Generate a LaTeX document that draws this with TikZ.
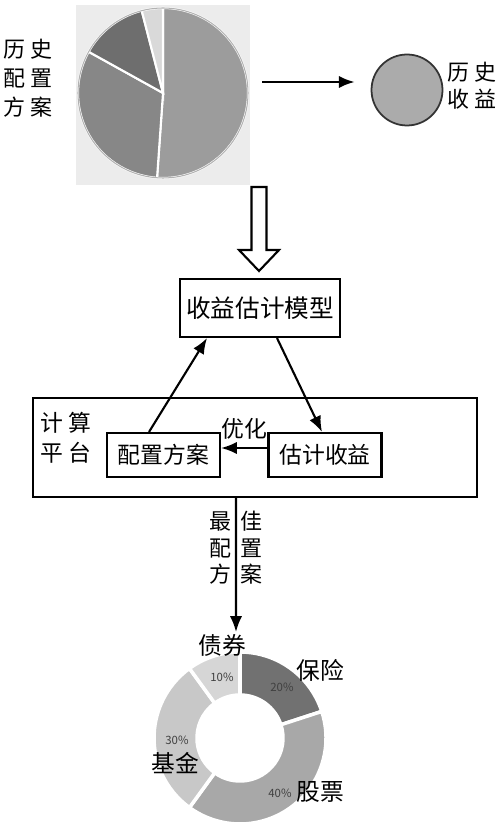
\documentclass[tikz,border=0pt]{standalone}
\usepackage{fontspec}
\setmainfont{Noto Sans CJK SC}
\usetikzlibrary{arrows.meta}
\definecolor{piebg}{HTML}{ECECEC}
\definecolor{sliceA}{HTML}{9C9C9C}
\definecolor{sliceB}{HTML}{878787}
\definecolor{sliceC}{HTML}{6E6E6E}
\definecolor{sliceD}{HTML}{D9D9D9}
\definecolor{ringA}{HTML}{717171}
\definecolor{ringB}{HTML}{A8A8A8}
\definecolor{ringC}{HTML}{C8C8C8}
\definecolor{ringD}{HTML}{D6D6D6}
\tikzset{
  box/.style={draw, line width=1.2pt, minimum height=0.88cm, minimum width=2.26cm, font=\fontsize{13}{15}\selectfont},
  lbl/.style={align=center, font=\fontsize{12.5}{16.5}\selectfont},
  pct/.style={font=\fontsize{6.5}{8}\selectfont, text=black!75},
  cat/.style={font=\fontsize{13.5}{15}\selectfont, inner sep=0pt}
}
\newcommand{\gp}{\hspace{2.5pt}}
\begin{document}
\begin{tikzpicture}[x=0.02cm, y=0.02cm, >={Latex[length=9pt,width=7pt]}]
\useasboundingbox (0,0) rectangle (500,832);

% historical allocation pie
\fill[piebg] (76,647) rectangle (250,827);
\coordinate (pie) at (163,739);
\foreach \a/\b/\c in {90/-94/sliceA, -94/-209/sliceB, -209/-255.5/sliceC, -255.5/-270/sliceD}
{
    \filldraw[fill=\c, draw=white, line width=1.2pt] (pie) -- ++(\a:85) arc (\a:\b:85) -- cycle;
}
\draw[black!30, line width=0.6pt] (pie) circle (85);
\node[lbl] (histplan) at (28,754) {历\gp 史\\配\gp 置\\方\gp 案};

% historical return
\node[circle, draw=black!80, line width=1pt, fill=black!33, minimum size=1.42cm] (hist) at (407,742) {};
\node[lbl, font=\fontsize{12.5}{15.5}\selectfont] (histlbl) at (472,746) {历\gp 史\\收\gp 益};
\coordinate (a1) at (262,750);
\draw[->, line width=1.2pt, shorten >=0.32cm] (a1) -- (a1 -| hist.west);

% hollow arrow
\coordinate (h) at (259,645);
\draw[line width=1.2pt, fill=white] (h) ++(-7.5,0) -- ++(0,-63) -- ++(-12.5,0) -- (259,561) -- (279,582) -- ++(-12.5,0) -- ++(0,63) -- cycle;

% model
\node[draw, line width=1.2pt, minimum width=3.2cm, minimum height=1.16cm, font=\fontsize{14}{16}\selectfont] (model) at (260,524) {收益估计模型};

% computing platform
\node[draw, line width=1.2pt, minimum width=8.88cm, minimum height=1.98cm] (platform) at (255,384.5) {};
\node[lbl, font=\fontsize{13}{17}\selectfont] (platlbl) at (66,394) {计\gp 算\\平\gp 台};
\node[box] (plan) at (163.5,377) {配置方案};
\node[box] (est) at (325,377) {估计收益};

\draw[->, line width=1.2pt] (est.west |- 0,384) -- (plan.east |- 0,384) node[midway, above=1pt, font=\fontsize{13}{14}\selectfont] {优化};
\draw[->, line width=1.2pt] ([xshift=-0.29cm]plan.north) -- ([xshift=-1.06cm]model.south);
\draw[->, line width=1.2pt] ([xshift=0.34cm]model.south) -- ([xshift=-0.06cm]est.north);

% best allocation
\coordinate (tip) at (236,200);
\draw[->, line width=1.2pt] ([xshift=-0.38cm]platform.south) -- (tip);
\node[lbl, font=\fontsize{12.5}{15}\selectfont] (best) at (236,284) {最\hspace{5pt}佳\\配\hspace{5pt}置\\方\hspace{5pt}案};

% resulting ring
\coordinate (ring) at (240,94);
\foreach \a/\b/\c in {90/18/ringA, 18/-126/ringB, -126/-234/ringC, -234/-270/ringD}
{
    \filldraw[fill=\c, draw=white, line width=2pt] (ring) ++(\a:86) arc (\a:\b:86) -- ++(\b:-43) arc (\b:\a:43) -- cycle;
}
\node[pct] (p20) at (282,145) {20\%};
\node[pct] (p10) at (222,155) {10\%};
\node[pct] (p30) at (177,92) {30\%};
\node[pct] (p40) at (280,39) {40\%};
\node[cat] (bond) at (222,187) {债券};
\node[cat] (ins) at (320,162) {保险};
\node[cat] (fund) at (175,69) {基金};
\node[cat] (stock) at (320,40) {股票};
\end{tikzpicture}
\end{document}
